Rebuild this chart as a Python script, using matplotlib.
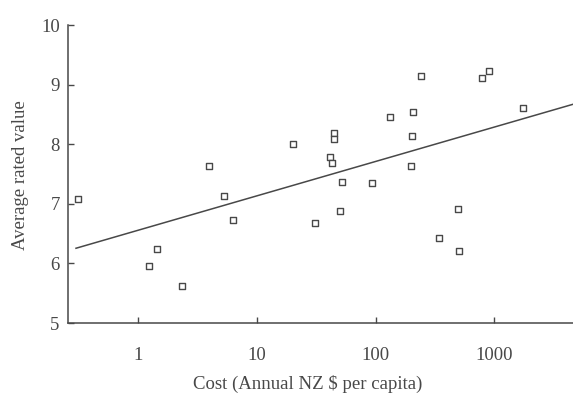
import numpy as np
import matplotlib
matplotlib.use("Agg")
import matplotlib.pyplot as plt

# --- data ---
cost = [0.31, 1.24, 1.45, 2.35, 3.97, 5.3, 6.31, 20.3, 31, 41.6, 43, 44.8, 44.8,
        50.5, 52.3, 93.8, 133, 200, 203, 207, 242, 344, 495, 504, 794, 906, 1728]
rating = [7.08, 5.96, 6.24, 5.62, 7.63, 7.13, 6.73, 8.0, 6.68, 7.79, 7.68, 8.19, 8.09,
          6.88, 7.37, 7.35, 8.46, 7.63, 8.14, 8.54, 9.14, 6.43, 6.91, 6.21, 9.11, 9.23, 8.6]

# fitted trend: rating = a + b*log10(cost)
fit_a = 6.557
fit_b = 0.577

x_ticks = [1, 10, 100, 1000]
x_ticklabels = ["1", "10", "100", "1000"]
y_ticks = [5, 6, 7, 8, 9, 10]

ink = "#484848"
plt.rcParams["font.family"] = ["Liberation Serif", "DejaVu Serif"]

fig = plt.figure(figsize=(5.73, 3.94), dpi=100)
ax = fig.add_axes([0.1187, 0.180, 0.8813, 0.7565])

ax.scatter(cost, rating, marker="s", s=14, facecolors="white",
           edgecolors=ink, linewidths=1.0, zorder=3)

xs = np.logspace(np.log10(0.3), np.log10(5000), 50)
ax.plot(xs, fit_a + fit_b * np.log10(xs), color=ink, lw=1.1)

ax.set_xscale("log")
ax.set_xlim(0.257, 4600)
ax.set_ylim(5, 10)
ax.set_xticks(x_ticks)
ax.set_xticklabels(x_ticklabels)
ax.minorticks_off()
ax.set_yticks(y_ticks)

for s in ["top", "right"]:
    ax.spines[s].set_visible(False)
for s in ["left", "bottom"]:
    ax.spines[s].set_color(ink)
    ax.spines[s].set_linewidth(1.1)

ax.tick_params(direction="in", length=4, width=1, colors=ink,
               labelsize=13.5, labelcolor=ink)
ax.tick_params(axis="x", pad=17)
ax.tick_params(axis="y", pad=6)

fig.text(0.5375, 0.003, "Cost (Annual NZ $ per capita)", ha="center", va="bottom",
         fontsize=13.5, color=ink)
fig.text(0.036, 0.555, "Average rated value", ha="center", va="center",
         rotation=90, fontsize=13.5, color=ink)

fig.savefig("out.png", dpi=100)
